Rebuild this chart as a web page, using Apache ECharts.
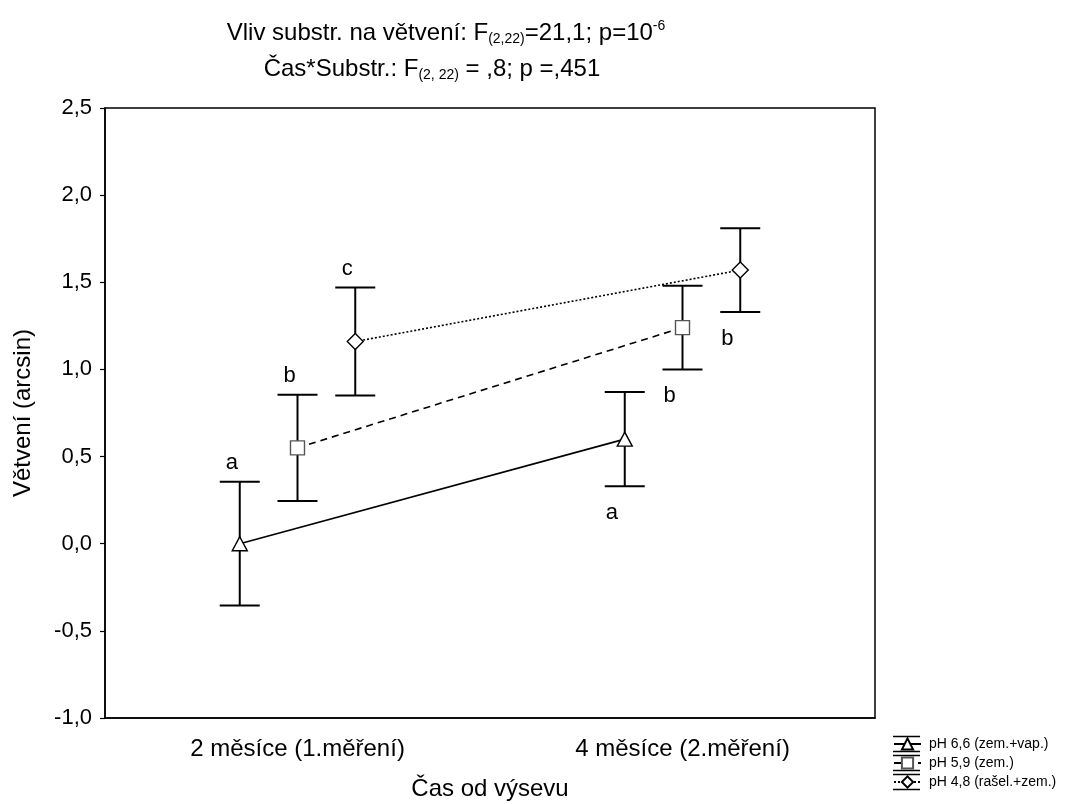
<!DOCTYPE html>
<html>
<head>
<meta charset="utf-8">
<script src="https://cdn.jsdelivr.net/npm/echarts@6/dist/echarts.min.js"></script>
<style>
  html, body { margin: 0; padding: 0; background: #fff; }
  #chart { width: 1068px; height: 804px; }
</style>
</head>
<body>
<div id="chart"></div>
<script>
// Measurement times (x categories)
const categories = ['2 měsíce (1.měření)', '4 měsíce (2.měření)'];

// Substrate groups
const groupNames = ['pH 6,6 (zem.+vap.)', 'pH 5,9 (zem.)', 'pH 4,8 (rašel.+zem.)'];

// Means, error half-widths and significance letters per group
const meansPH66 = [0.00, 0.60];
const errPH66 = [0.355, 0.27];
const lettersPH66 = ['a', 'a'];

const meansPH59 = [0.55, 1.24];
const errPH59 = [0.305, 0.24];
const lettersPH59 = ['b', 'b'];

const meansPH48 = [1.16, 1.57];
const errPH48 = [0.31, 0.24];
const lettersPH48 = ['c', 'b'];

// Where the letter sits for each time point
const letterSide = ['above', 'below'];

// Y axis range and tick step
const yMin = -1.0, yMax = 2.5, yStep = 0.5;

const FONT = 'Liberation Sans, Arial, sans-serif';

const groups = [
  { name: groupNames[0], means: meansPH66, errs: errPH66, letters: lettersPH66,
    offset: -0.15, symbol: 'triangle', symbolSize: [15, 14], border: '#000',
    line: { type: 'solid', width: 1.6 } },
  { name: groupNames[1], means: meansPH59, errs: errPH59, letters: lettersPH59,
    offset: 0, symbol: 'rect', symbolSize: [14, 14], border: '#555',
    line: { type: [7, 5], width: 1.6 } },
  { name: groupNames[2], means: meansPH48, errs: errPH48, letters: lettersPH48,
    offset: 0.15, symbol: 'diamond', symbolSize: [16, 16], border: '#000',
    line: { type: [2, 2], width: 1.6 } }
];

const series = [];
groups.forEach(function (g) {
  const pts = g.means.map(function (m, i) { return [i + g.offset, m, g.errs[i]]; });

  // error bars with caps and group letters
  series.push({
    type: 'custom',
    xAxisIndex: 1,
    z: 2,
    silent: true,
    data: pts,
    renderItem: function (params, api) {
      const x = api.value(0), m = api.value(1), e = api.value(2);
      const top = api.coord([x, m + e]);
      const bot = api.coord([x, m - e]);
      const half = 20;
      const st = { stroke: '#000', lineWidth: 2 };
      const idx = params.dataIndex;
      const above = letterSide[idx] === 'above';
      return {
        type: 'group',
        children: [
          { type: 'line', shape: { x1: top[0], y1: top[1], x2: bot[0], y2: bot[1] }, style: st },
          { type: 'line', shape: { x1: top[0] - half, y1: top[1], x2: top[0] + half, y2: top[1] }, style: st },
          { type: 'line', shape: { x1: bot[0] - half, y1: bot[1], x2: bot[0] + half, y2: bot[1] }, style: st },
          { type: 'text',
            x: above ? top[0] - 8 : bot[0] - 13,
            y: above ? top[1] - 19 : bot[1] + 27,
            style: { text: g.letters[idx], fill: '#000', font: '22px ' + FONT,
                     align: 'center', verticalAlign: 'middle' } }
        ]
      };
    }
  });

  // mean markers joined across time
  series.push({
    type: 'line',
    name: g.name,
    xAxisIndex: 1,
    z: 4,
    data: pts.map(function (p) { return [p[0], p[1]]; }),
    symbol: g.symbol,
    symbolSize: g.symbolSize,
    showAllSymbol: true,
    itemStyle: { color: '#fff', borderColor: g.border, borderWidth: 1.4 },
    lineStyle: { color: '#000', width: g.line.width, type: g.line.type },
    emphasis: { disabled: true },
    animation: false
  });
});

// cap lines drawn around the legend icons
const legendTop = 737, legendRow = 19, legendX = 893, legendW = 27, legendIconH = 14;
const legendDecor = [];
groupNames.forEach(function (n, i) {
  const cy = legendTop + legendRow * i + legendIconH / 2;
  [-7.5, 7.5].forEach(function (d) {
    legendDecor.push({
      type: 'line',
      shape: { x1: legendX, y1: cy + d, x2: legendX + legendW, y2: cy + d },
      style: { stroke: '#000', lineWidth: 1.5 }
    });
  });
});

const chart = echarts.init(document.getElementById('chart'), null, { renderer: 'canvas' });
chart.setOption({
  backgroundColor: '#fff',
  animation: false,
  textStyle: { fontFamily: FONT, color: '#000' },
  grid: {
    left: 105, right: 193, top: 108, bottom: 86,
    outerBoundsMode: 'none',
    show: true, borderColor: '#000', borderWidth: 1.5, containLabel: false
  },
  graphic: [
    {
      type: 'text', x: 446, y: 33,
      style: {
        text: '{t|Vliv substr. na větvení: F}{sub|(2,22)}{t|=21,1; p=10}{sup|-6}',
        align: 'center', verticalAlign: 'middle', fill: '#000',
        rich: {
          t: { fontSize: 24, fontFamily: FONT, fill: '#000' },
          sub: { fontSize: 14, fontFamily: FONT, padding: [13, 0, 0, 0], fill: '#000' },
          sup: { fontSize: 14, fontFamily: FONT, padding: [0, 0, 13, 0], fill: '#000' }
        }
      }
    },
    {
      type: 'text', x: 432, y: 69,
      style: {
        text: '{t|Čas*Substr.: F}{sub|(2, 22)}{t| = ,8; p =,451}',
        align: 'center', verticalAlign: 'middle', fill: '#000',
        rich: {
          t: { fontSize: 24, fontFamily: FONT, fill: '#000' },
          sub: { fontSize: 14, fontFamily: FONT, padding: [13, 0, 0, 0], fill: '#000' }
        }
      }
    }
  ].concat(legendDecor),
  legend: {
    orient: 'vertical',
    left: legendX, top: legendTop,
    padding: 0,
    itemWidth: legendW, itemHeight: legendIconH, itemGap: legendRow - legendIconH,
    textStyle: { fontSize: 14, fontFamily: FONT, color: '#000', padding: [0, 0, 0, 3] },
    selectedMode: false,
    data: groupNames
  },
  xAxis: [
    {
      type: 'category',
      data: categories,
      boundaryGap: true,
      name: 'Čas od výsevu',
      nameLocation: 'middle',
      nameGap: 59,
      nameTextStyle: { fontSize: 24, fontFamily: FONT, color: '#000' },
      axisLine: { onZero: false, lineStyle: { color: '#000', width: 1.5 } },
      axisTick: { alignWithLabel: true, inside: true, length: 5, lineStyle: { color: '#000', width: 1.2 } },
      axisLabel: { fontSize: 24, fontFamily: FONT, color: '#000', margin: 19 },
      splitLine: { show: false }
    },
    {
      type: 'value',
      min: -0.5, max: 1.5,
      show: false
    }
  ],
  yAxis: {
    type: 'value',
    min: yMin, max: yMax, interval: yStep,
    name: 'Větvení (arcsin)',
    nameLocation: 'middle',
    nameGap: 70,
    nameTextStyle: { fontSize: 24, fontFamily: FONT, color: '#000' },
    axisLine: { show: true, onZero: false, lineStyle: { color: '#000', width: 1.5 } },
    axisTick: { show: true, inside: false, length: 5, lineStyle: { color: '#000', width: 1.2 } },
    axisLabel: {
      fontSize: 22, fontFamily: FONT, color: '#000', margin: 13,
      formatter: function (v) { return v.toFixed(1).replace('.', ','); }
    },
    splitLine: { show: false }
  },
  series: series
});
</script>
</body>
</html>
